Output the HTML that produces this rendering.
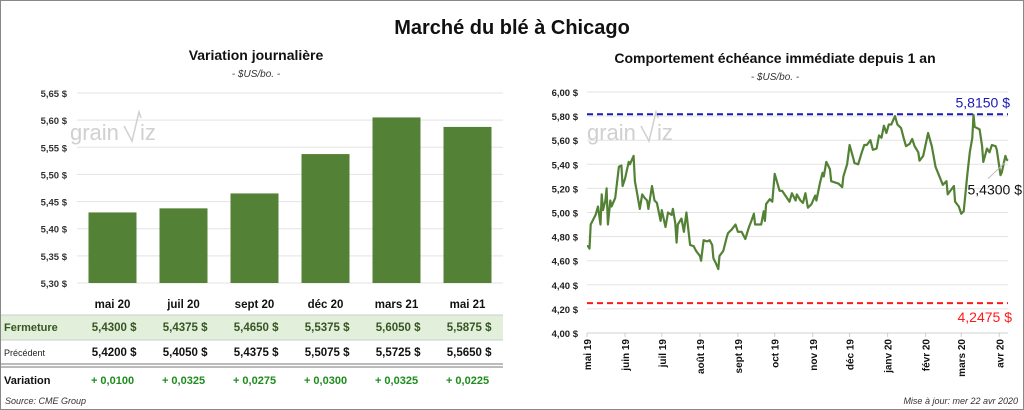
<!DOCTYPE html>
<html><head><meta charset="utf-8"><style>
body{margin:0;background:#fff;}
svg{display:block;font-family:"Liberation Sans",sans-serif;}
</style></head><body>
<svg id="c" width="1024" height="410" viewBox="0 0 1024 410" xmlns="http://www.w3.org/2000/svg">
<rect x="0.5" y="0.5" width="1023" height="409" fill="#fff" stroke="#888"/>
<text x="512" y="34" text-anchor="middle" font-size="20" font-weight="bold" fill="#111">Marché du blé à Chicago</text>
<text x="256" y="60" text-anchor="middle" font-size="14" font-weight="bold" fill="#111">Variation journalière</text>
<text x="256" y="77" text-anchor="middle" font-size="10" font-style="italic" fill="#333">- $US/bo. -</text>
<text x="775" y="63" text-anchor="middle" font-size="14" font-weight="bold" fill="#111">Comportement échéance immédiate depuis 1 an</text>
<text x="775" y="80" text-anchor="middle" font-size="10" font-style="italic" fill="#333">- $US/bo. -</text>
<g id="bars"></g>
<g id="table"></g>
<g id="line"></g>
<text x="5" y="404" font-size="9" font-style="italic" fill="#333">Source: CME Group</text>
<text x="1018" y="404" text-anchor="end" font-size="9" font-style="italic" fill="#333">Mise à jour: mer 22 avr 2020</text>
</svg>
<script>
const categories=["mai 20","juil 20","sept 20","déc 20","mars 21","mai 21"];
const closeValues=[5.4300,5.4375,5.4650,5.5375,5.6050,5.5875];
const prevValues=[5.4200,5.4050,5.4375,5.5075,5.5725,5.5650];
const barTicks=[5.30,5.35,5.40,5.45,5.50,5.55,5.60,5.65];
const lineDays=[0,1,2,3,7,9,11,12,13,15,16,17,19,20,23,26,28,29,31,34,35,38,39,41,43,45,47,49,50,53,55,57,60,61,64,66,69,70,72,73,74,77,79,81,84,87,89,92,93,95,98,100,102,103,105,107,108,111,114,115,118,121,123,126,129,132,134,136,137,140,142,144,145,146,149,151,153,155,157,159,163,165,167,170,171,174,176,178,180,183,186,187,190,192,193,195,198,199,202,205,208,209,212,214,217,218,221,224,226,228,231,233,236,238,240,242,244,246,248,251,253,256,258,260,263,265,267,270,271,274,278,281,284,286,288,290,293,294,299,300,303,305,307,310,312,314,315,316,320,322,323,326,328,330,333,334,337,338,341,342,343];
const lineValues=[4.72,4.72,4.70,4.90,4.98,5.05,4.90,5.15,5.02,5.10,5.20,4.90,5.10,5.05,5.12,5.38,5.39,5.22,5.28,5.42,5.40,5.47,5.26,5.15,5.03,5.15,5.12,5.10,5.03,5.22,5.10,5.08,4.93,5.02,4.88,5.00,4.98,5.03,4.91,4.75,4.90,4.95,4.84,5.00,4.73,4.72,4.68,4.64,4.60,4.77,4.76,4.77,4.73,4.62,4.58,4.53,4.64,4.68,4.80,4.83,4.86,4.90,4.84,4.84,4.78,4.88,4.93,4.99,4.90,4.90,4.90,5.01,4.93,5.07,5.11,5.09,5.32,5.25,5.18,5.18,5.12,5.09,5.16,5.10,5.15,5.10,5.08,5.16,5.04,5.07,5.14,5.10,5.25,5.33,5.30,5.42,5.36,5.26,5.25,5.24,5.21,5.30,5.40,5.56,5.45,5.41,5.40,5.50,5.56,5.56,5.60,5.52,5.53,5.64,5.62,5.72,5.66,5.73,5.73,5.80,5.73,5.70,5.62,5.55,5.57,5.61,5.55,5.50,5.43,5.47,5.66,5.55,5.38,5.33,5.28,5.23,5.26,5.15,5.22,5.09,5.05,4.99,5.01,5.32,5.50,5.62,5.81,5.71,5.69,5.55,5.42,5.53,5.50,5.56,5.55,5.52,5.31,5.33,5.47,5.44,5.43];
const lineTicks=[4.00,4.20,4.40,4.60,4.80,5.00,5.20,5.40,5.60,5.80,6.00];
const monthLabels=["mai 19","juin 19","juil 19","août 19","sept 19","oct 19","nov 19","déc 19","janv 20","févr 20","mars 20","avr 20"];
const monthDays=[0,31,61,92,123,153,184,214,245,276,305,336];
const highValue=5.8150, lowValue=4.2475, lastValue=5.4300;

const NS="http://www.w3.org/2000/svg";
function mk(p,tag,at,txt){const e=document.createElementNS(NS,tag);for(const k in at)e.setAttribute(k,at[k]);if(txt!=null)e.textContent=txt;p.appendChild(e);return e;}
const fmt=(v,d)=>v.toFixed(d).replace('.',',');

function watermark(p,x,y){
  const g=mk(p,'g',{});
  
  
  mk(g,'text',{x:x,y:y,'font-size':22,fill:'#d0d0d0'},'grain');
  mk(g,'path',{d:`M${x+54} ${y-14} L${x+62} ${y+1} L${x+69} ${y-28} L${x+71} ${y-22}`,fill:'none',stroke:'#d0d0d0','stroke-width':1.5});
  mk(g,'text',{x:x+70,y:y,'font-size':22,fill:'#d0d0d0'},'iz');
}

const B=document.getElementById('bars');
const bx0=77,bx1=503,by0=283,by1=93;
const bY=v=>by0-(v-5.30)/(0.35)*(by0-by1);
const bw=(bx1-bx0)/categories.length;
barTicks.forEach(t=>{
  const l=mk(B,'line',{x1:bx0,x2:bx1,y1:bY(t),y2:bY(t),stroke:'#e3e3e3'});
  
  
  const tx=mk(B,'text',{x:67,y:bY(t)+4,'text-anchor':'end','font-size':9.5,'font-weight':'bold',fill:'#333'},fmt(t,2)+' $');
  
  
});
watermark(B,70,140);
closeValues.forEach((v,i)=>{
  const cx=bx0+bw*(i+0.5);
  const r=mk(B,'rect',{x:cx-24,y:bY(v),width:48,height:by0-bY(v),fill:'#538135'});
  
  
});

const T=document.getElementById('table');
mk(T,'rect',{x:1,y:315,width:502,height:25,fill:'#e2efda'});
mk(T,'line',{x1:1,x2:503,y1:315,y2:315,stroke:'#ccc'});
mk(T,'line',{x1:1,x2:503,y1:340,y2:340,stroke:'#ccc'});
mk(T,'line',{x1:1,x2:503,y1:364,y2:364,stroke:'#777'});
mk(T,'line',{x1:1,x2:503,y1:367,y2:367,stroke:'#777'});
const lab1=mk(T,'text',{x:4,y:331,'font-size':11,'font-weight':'bold',fill:'#375623'},'Fermeture');


const lab2=mk(T,'text',{x:4,y:356,'font-size':9,fill:'#222'},'Précédent');


const lab3=mk(T,'text',{x:4,y:384,'font-size':11,'font-weight':'bold',fill:'#111'},'Variation');


categories.forEach((c,i)=>{
  const cx=bx0+bw*(i+0.5), rx=cx+24;
  const h=mk(T,'text',{x:cx,y:308,'text-anchor':'middle','font-size':11.5,'font-weight':'bold',fill:'#111'},c);
  
  
  const a=mk(T,'text',{x:rx,y:331,'text-anchor':'end','font-size':11.5,'font-weight':'bold',fill:'#375623'},fmt(closeValues[i],4)+'  $');
  
  
  a.setAttribute('xml:space','preserve');
  const b=mk(T,'text',{x:rx,y:356,'text-anchor':'end','font-size':11.5,'font-weight':'bold',fill:'#111'},fmt(prevValues[i],4)+'  $');
  
  
  b.setAttribute('xml:space','preserve');
  const d=closeValues[i]-prevValues[i];
  const v=mk(T,'text',{x:cx,y:384,'text-anchor':'middle','font-size':11,'font-weight':'bold',fill:'#1e8c1e'},(d>=0?'+ ':'- ')+fmt(Math.abs(d),4));
  
  
});

const L=document.getElementById('line');
const lx0=587,lpd=1.227,lxR=1008,ly0=333,ly1=92;
const lX=d=>lx0+d*lpd;
const lY=v=>ly0-(v-4)/2*(ly0-ly1);
lineTicks.forEach(t=>{
  const l=mk(L,'line',{x1:lx0,x2:lxR,y1:lY(t),y2:lY(t),stroke:t===4?'#d0d0d0':'#e3e3e3'});
  
  
  const tx=mk(L,'text',{x:578,y:lY(t)+4,'text-anchor':'end','font-size':9.5,'font-weight':'bold',fill:'#222'},fmt(t,2)+' $');
  
  
});
watermark(L,587,140);
monthDays.forEach((d,i)=>{
  mk(L,'line',{x1:lX(d),x2:lX(d),y1:ly0,y2:ly0+4,stroke:'#ccc'});
  const tx=mk(L,'text',{transform:`translate(${lX(d)+4},${ly0+6}) rotate(-90)`,'text-anchor':'end','font-size':10,'font-weight':'bold',fill:'#111'},monthLabels[i]);
  
  
});
const hl=mk(L,'line',{x1:lx0,x2:lxR,y1:lY(highValue),y2:lY(highValue),stroke:'#1a1ab8','stroke-width':2,'stroke-dasharray':'6,4'});


const ll=mk(L,'line',{x1:lx0,x2:lxR,y1:lY(lowValue),y2:lY(lowValue),stroke:'#ff1a1a','stroke-width':2,'stroke-dasharray':'6,4'});


const ht=mk(L,'text',{x:1010,y:lY(highValue)-7,'text-anchor':'end','font-size':14,fill:'#1a1ab8'},fmt(highValue,4)+' $');


const lt=mk(L,'text',{x:1012,y:lY(lowValue)+19,'text-anchor':'end','font-size':14,fill:'#ff1a1a'},fmt(lowValue,4)+' $');


let d='';
lineDays.forEach((dd,i)=>{d+=(i?'L':'M')+lX(dd).toFixed(1)+' '+lY(lineValues[i]).toFixed(1)+' ';});
const p=mk(L,'path',{d:d,fill:'none',stroke:'#538135','stroke-width':2.2,'stroke-linejoin':'round'});


const lastX=lX(lineDays[lineDays.length-1]), lastY=lY(lineValues[lineValues.length-1]);
mk(L,'line',{x1:lastX-3,y1:lastY+2,x2:988,y2:lastY+18,stroke:'#bbb'});
const lv=mk(L,'text',{x:1022,y:lastY+34,'text-anchor':'end','font-size':14,fill:'#111'},fmt(lastValue,4)+' $');


</script>
</body></html>
